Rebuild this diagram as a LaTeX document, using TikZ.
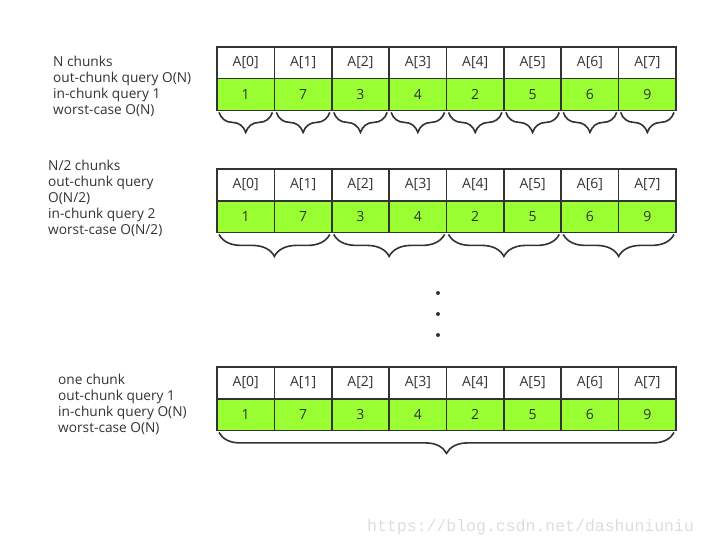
\documentclass[tikz,border=0pt]{standalone}
\usepackage{fontspec}
\setmainfont{Open Sans}
\setmonofont{Liberation Mono}
\usetikzlibrary{decorations.pathreplacing}
\definecolor{ink}{RGB}{51,51,51}
\definecolor{cellgreen}{RGB}{153,255,51}
\definecolor{wmark}{RGB}{222,222,216}

\begin{document}
\begin{tikzpicture}[x=1pt, y=-1pt,
    cell/.style={draw=ink, line width=1.6pt, minimum width=57.4pt, minimum height=31.7pt,
                 inner sep=0pt, outer sep=0pt, text=ink, font=\fontsize{14}{16}\selectfont, fill=#1},
    cell/.default=white,
    brc/.style={decorate, decoration={brace, mirror, amplitude=#1, raise=2pt}, draw=ink, line width=1.6pt},
    info/.style={anchor=north west, align=left, inner sep=0pt, text=ink,
                 font=\fontsize{13.7}{16}\selectfont}
  ]
  \useasboundingbox (0,0) rectangle (708,548);

  % three arrays, same data
  \foreach \r/\top in {1/47, 2/169, 3/367} {
    \foreach \v [count=\i from 0] in {1,7,3,4,2,5,6,9} {
      \node[cell] (l\r-\i) at ({217+57.375*\i+28.7}, {\top+15.85}) {A[\i]};
      \node[cell=cellgreen] (v\r-\i) at ({217+57.375*\i+28.7}, {\top+47.55}) {\v};
    }
  }

  % chunk braces
  \foreach \i in {0,...,7}
    \draw[brc=20pt] ([xshift=2pt]v1-\i.south west) -- ([xshift=-2pt]v1-\i.south east);
  \foreach \i/\j in {0/1, 2/3, 4/5, 6/7}
    \draw[brc=22pt] ([xshift=2pt]v2-\i.south west) -- ([xshift=-2pt]v2-\j.south east);
  \draw[brc=21pt] ([xshift=2pt]v3-0.south west) -- ([xshift=-2pt]v3-7.south east);

  \node[info] (txt1) at (53,55.5) {N chunks\\out-chunk query O(N)\\in-chunk query 1\\worst-case O(N)};
  \node[info] (txt2) at (48,160) {N/2 chunks\\out-chunk query\\O(N/2)\\in-chunk query 2\\worst-case O(N/2)};
  \node[info] (txt3) at (58,373.5) {one chunk\\out-chunk query 1\\in-chunk query O(N)\\worst-case O(N)};

  % vertical dots
  \foreach \y in {293, 314, 335}
    \fill[ink] (438,\y) circle (2pt);

  \node[anchor=west, inner sep=0pt, text=wmark, font=\ttfamily\fontsize{16.5}{18}\selectfont]
    (wm) at (367,527) {https://blog.csdn.net/dashuniuniu};

\end{tikzpicture}
\end{document}
